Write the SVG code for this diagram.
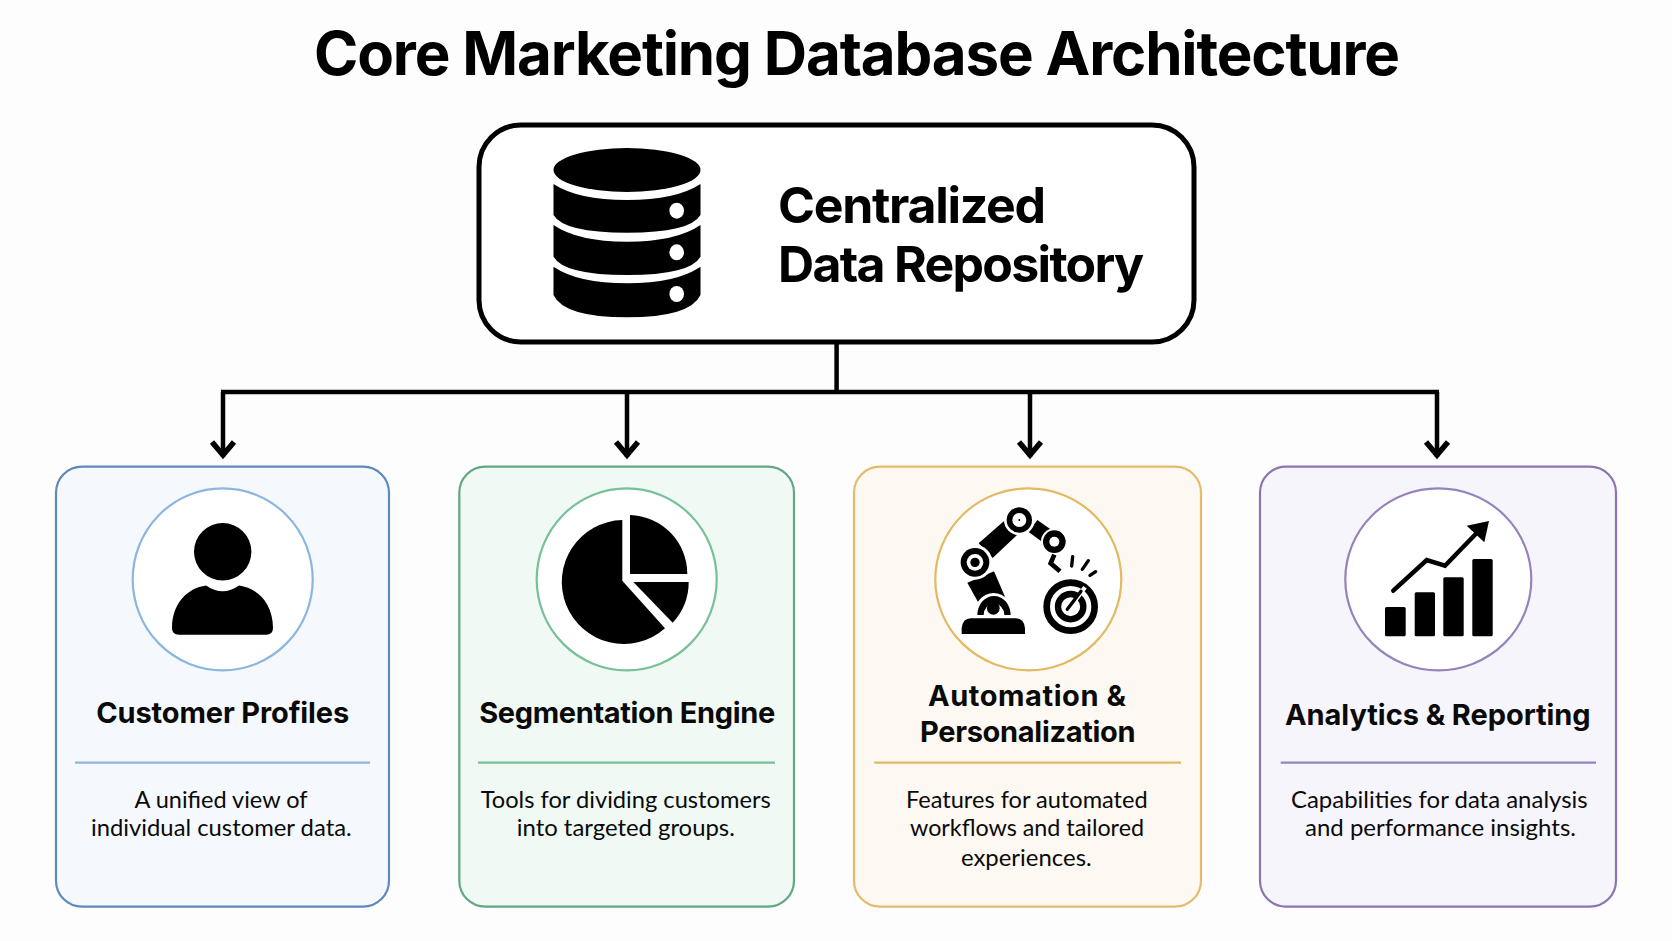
<svg xmlns="http://www.w3.org/2000/svg" width="1672" height="941" viewBox="0 0 1672 941">
<style>
text{fill:#0a0a0a;text-anchor:middle;font-family:"Lato","Liberation Sans",sans-serif}
.h{font-family:"Inter","Liberation Sans",sans-serif;font-weight:700;font-size:60px;fill:#000}
.m{font-family:"Inter","Liberation Sans",sans-serif;font-weight:700;font-size:50px;text-anchor:start;fill:#000}
.t{font-family:"Inter","Liberation Sans",sans-serif;font-weight:700;font-size:29px}
.b{font-size:24px}
.k{fill:#000}
.w{fill:#fff}
.conn{fill:none;stroke:#000;stroke-width:4.5}
.card{stroke-width:2.2}
.disc{fill:#fff;stroke-width:2.2}
.rule{stroke-width:2.2}
.blue .card{fill:#f5f9fd;stroke:#5f88bb}.blue .disc,.blue .rule{stroke:#8cb6de}
.green .card{fill:#f0f9f4;stroke:#62a682}.green .disc,.green .rule{stroke:#77c098}
.amber .card{fill:#fdf8f1;stroke:#e5bb6b}.amber .disc,.amber .rule{stroke:#e3b962}
.violet .card{fill:#f7f5fc;stroke:#8a75b1}.violet .disc,.violet .rule{stroke:#9683bc}
</style>
<defs>
<marker id="arrow" markerUnits="userSpaceOnUse" markerWidth="32" markerHeight="32" viewBox="0 0 32 32" refX="26" refY="16" orient="auto" overflow="visible">
<path d="M11 5 L24 16 L11 27" fill="none" stroke="#000" stroke-width="5.5"/>
</marker>
</defs>
<rect width="1672" height="941" fill="#fdfdfd"/>
<text id="title" class="h" x="857" y="75" textLength="1086">Core Marketing Database Architecture</text>

<g id="connectors">
<path class="conn" d="M836.6 342V392M221 392H1439"/>
<path class="conn" d="M223 392V457" marker-end="url(#arrow)"/>
<path class="conn" d="M627 392V457" marker-end="url(#arrow)"/>
<path class="conn" d="M1030 392V457" marker-end="url(#arrow)"/>
<path class="conn" d="M1437 392V457" marker-end="url(#arrow)"/>
</g>

<g id="repository">
<rect x="479" y="125" width="715" height="217" rx="42" fill="#fff" stroke="#000" stroke-width="5"/>
<ellipse class="k" cx="627" cy="170" rx="73.5" ry="22"/>
<path class="k" d="M553.5 184Q578 200 627 200T700.5 184V215Q690 232.700 627 232.700T553.500 215Z"/>
<path class="k" d="M553.5 225Q578 241.700 627 241.700T700.5 225V256.700Q690 275 627 275T553.500 256.700Z"/>
<path class="k" d="M553.5 266.700Q578 283.300 627 283.300T700.5 266.700V295Q690 317.300 627 317.300T553.500 295Z"/>
<ellipse class="w" cx="676.700" cy="210.700" rx="7.300" ry="8"/>
<ellipse class="w" cx="676.700" cy="252.300" rx="7.300" ry="8"/>
<ellipse class="w" cx="676.700" cy="294" rx="7.300" ry="8"/>
<text class="m" x="778" y="223" textLength="268">Centralized</text>
<text class="m" x="778" y="282" textLength="366">Data Repository</text>
</g>

<g id="customer-profiles" class="blue">
<rect class="card" x="56" y="466.700" width="333" height="440" rx="26"/>
<ellipse class="disc" cx="222.700" cy="579.300" rx="90" ry="91"/>
<circle class="k" cx="222.700" cy="551.700" r="28.700"/>
<path class="k" d="M206 585.500Q222.700 597 239 585.500C258 588 273 604 273 628Q273 634.700 266 634.700H179Q172 634.700 172 628C172 604 187 588 206 585.500Z"/>
<text class="t" x="222.700" y="723" textLength="253">Customer Profiles</text>
<line class="rule" x1="75" y1="762.700" x2="370" y2="762.700"/>
<text class="b" x="221" y="808" textLength="173" lengthAdjust="spacingAndGlyphs">A unified view of</text>
<text class="b" x="221.300" y="836" textLength="260.700" lengthAdjust="spacingAndGlyphs">individual customer data.</text>
</g>

<g id="segmentation-engine" class="green">
<rect class="card" x="459.300" y="466.700" width="334.700" height="440" rx="26"/>
<ellipse class="disc" cx="626.700" cy="579.300" rx="90" ry="91"/>
<path class="k" d="M622.300 580.700V520A62 62 0 1 0 665 628.300Z"/>
<path class="k" d="M630 574V515A59 59 0 0 1 687.300 574Z"/>
<path class="k" d="M633.300 582H688.700A60 60 0 0 1 672.700 622.700Z"/>
<text class="t" x="627.200" y="723" textLength="296">Segmentation Engine</text>
<line class="rule" x1="478" y1="762.700" x2="775" y2="762.700"/>
<text class="b" x="625.700" y="808" textLength="290" lengthAdjust="spacingAndGlyphs">Tools for dividing customers</text>
<text class="b" x="625.800" y="836" textLength="218" lengthAdjust="spacingAndGlyphs">into targeted groups.</text>
</g>

<g id="automation-personalization" class="amber">
<rect class="card" x="854" y="466.700" width="347" height="440" rx="26"/>
<ellipse class="disc" cx="1028.300" cy="579.300" rx="93" ry="91"/>
<g transform="translate(950 500) scale(.3333)">
<path class="k" d="M52 248L132 214L165 290L92 320Z"/>
<path class="w" d="M70 350A60 70 0 0 1 192 350Z"/>
<path class="k" d="M35 402V385Q38 355 62 355H198Q222 355 225 385V402Z"/>
<path class="k" d="M82 345A49 56 0 0 1 182 345H163A31 34 0 0 0 101 345Z"/>
<circle class="k" cx="130" cy="325" r="19"/>
<path class="k" d="M86 130L163 62L202 104L128 174Z"/>
<path class="k" d="M236 96L262 60L308 92L280 128Z"/>
<circle class="w" cx="75" cy="187" r="52"/><circle class="k" cx="75" cy="187" r="43"/><circle class="w" cx="75" cy="187" r="25"/><circle class="k" cx="75" cy="187" r="14"/>
<circle class="w" cx="208" cy="60" r="46"/><circle class="k" cx="208" cy="60" r="38"/><circle class="w" cx="208" cy="60" r="21"/><circle class="k" cx="208" cy="60" r="3"/>
<circle class="w" cx="313" cy="125" r="40"/><circle class="k" cx="313" cy="125" r="34"/><circle class="w" cx="313" cy="125" r="15"/>
<path d="M313 164L302 190L330 214" fill="none" stroke="#000" stroke-width="14"/>
<path d="M368 170L365 198M415 182L397 208M437 215L420 226" fill="none" stroke="#000" stroke-width="10" stroke-linecap="round"/>
<circle cx="362" cy="320" r="72" fill="none" stroke="#000" stroke-width="20"/>
<circle cx="362" cy="320" r="38" fill="none" stroke="#000" stroke-width="19"/>
<path d="M362 320L405 262" fill="none" stroke="#fff" stroke-width="13"/>
<path d="M352 328L393 274" fill="none" stroke="#000" stroke-width="10" stroke-linecap="round"/>
</g>
<text class="t" x="1027" y="706" textLength="198">Automation &amp;</text>
<text class="t" x="1027.800" y="741.700" textLength="215.700">Personalization</text>
<line class="rule" x1="874.300" y1="762.700" x2="1181" y2="762.700"/>
<text class="b" x="1026.800" y="808" textLength="241.700" lengthAdjust="spacingAndGlyphs">Features for automated</text>
<text class="b" x="1027" y="836" textLength="234" lengthAdjust="spacingAndGlyphs">workflows and tailored</text>
<text class="b" x="1026.300" y="866" textLength="130.700" lengthAdjust="spacingAndGlyphs">experiences.</text>
</g>

<g id="analytics-reporting" class="violet">
<rect class="card" x="1260" y="466.700" width="356" height="440" rx="26"/>
<ellipse class="disc" cx="1438.300" cy="579.300" rx="93" ry="91"/>
<rect class="k" x="1385" y="607" width="20.700" height="29.300" rx="1.500"/>
<rect class="k" x="1414.700" y="592.300" width="20.300" height="44" rx="1.500"/>
<rect class="k" x="1443.300" y="577.300" width="20.400" height="59" rx="1.500"/>
<rect class="k" x="1472.300" y="559" width="20.400" height="77.300" rx="1.500"/>
<path d="M1393.300 590.700L1426.700 560L1445 565.700L1476.700 533" fill="none" stroke="#000" stroke-width="4.500" stroke-linecap="round"/>
<path class="k" d="M1489 521L1466.700 525.700L1484.300 542.300Z"/>
<text class="t" x="1437.800" y="725" textLength="305.700">Analytics &amp; Reporting</text>
<line class="rule" x1="1280.700" y1="762.700" x2="1596" y2="762.700"/>
<text class="b" x="1439.300" y="808" textLength="296.700" lengthAdjust="spacingAndGlyphs">Capabilities for data analysis</text>
<text class="b" x="1440.500" y="836" textLength="271" lengthAdjust="spacingAndGlyphs">and performance insights.</text>
</g>
</svg>
